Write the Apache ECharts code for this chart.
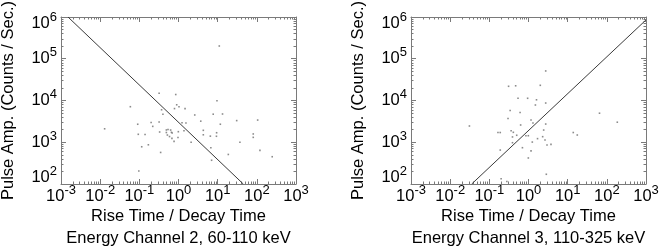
<!DOCTYPE html>
<html><head><meta charset="utf-8">
<script src="https://cdn.jsdelivr.net/npm/echarts@6/dist/echarts.min.js"></script>
<style>html,body{margin:0;padding:0;background:#fff}#c{width:661px;height:247px}</style>
</head><body><div id="c"></div>
<script>
// ---- tick labels (powers of ten) ----
const xTickExponents = [-3, -2, -1, 0, 1, 2, 3];
const yTickExponents = [2, 3, 4, 5, 6];

// ---- texts ----
const xTitle = 'Rise Time / Decay Time';
const yTitle = 'Pulse Amp. (Counts / Sec.)';
const panelTitles = ['Energy Channel 2, 60-110 keV', 'Energy Channel 3, 110-325 keV'];

// ---- Energy channel 2 events ----
const ch2RiseDecay = [11, 0.013, 0.059, 0.32, 0.85, 0.091, 0.094, 0.115, 0.097, 0.14, 0.17, 0.2, 0.22, 0.32, 0.33, 0.35, 0.37, 0.4, 0.49, 0.54, 0.49, 0.52, 0.59, 0.63, 0.66, 0.69, 0.68, 0.77, 0.79, 0.9, 1.03, 0.99, 0.97, 1.47, 1.23, 1.55, 1.38, 2.1, 2.6, 3.7, 4.3, 4.3, 6.5, 7, 6.7, 7.7, 9.4, 9.3, 9.6, 13.3, 11.7, 18.7, 30.6, 37, 81, 81, 105, 120, 247];
const ch2PulseAmp = [202000, 2100, 7100, 14900, 13900, 2700, 1550, 780, 205, 1530, 870, 2970, 2400, 3050, 1760, 570, 6000, 4700, 1970, 2020, 1710, 1490, 1370, 1960, 1730, 1670, 1240, 1050, 6400, 7900, 7100, 1790, 1300, 6400, 2940, 2890, 1890, 1000, 4500, 3200, 1930, 1510, 1400, 370, 740, 4700, 1690, 1390, 9900, 4750, 2700, 510, 3300, 1000, 1580, 1310, 3400, 640, 450];
const ch2FitX = [0.00151, 45.1];
const ch2FitY = [1000000, 100];

// ---- Energy channel 3 events ----
const ch3RiseDecay = [0.031, 0.166, 0.19, 0.19, 0.2, 0.28, 0.31, 0.47, 0.54, 0.95, 1.6, 0.34, 0.3, 0.36, 0.41, 0.39, 0.39, 0.61, 0.63, 0.5, 0.7, 0.86, 0.99, 0.99, 1.16, 1.16, 1.3, 1.5, 1.7, 1.25, 2.0, 2.44, 2.3, 2.64, 2.75, 2.75, 2.85, 2.75, 2.97, 3.75, 13.9, 17.6, 65, 185];
const ch3PulseAmp = [2450, 1710, 1710, 650, 134, 115, 21900, 22500, 11300, 11300, 10400, 5760, 3700, 1890, 1730, 1340, 975, 5160, 2590, 1470, 740, 1435, 1435, 420, 3410, 620, 2890, 7800, 1220, 1010, 23100, 1960, 1360, 1130, 8700, 51000, 171, 2730, 860, 890, 1710, 1490, 4960, 3020];
const ch3FitX = [0.0355, 1000];
const ch3FitY = [100, 851000];

// ---------------------------------------------------------------
const FONT = "'Liberation Sans', Arial, Helvetica, sans-serif";
const FRAME = '#7a7a7a';
const pw = e => Number('1e' + e);
const xMajor = xTickExponents.map(pw);
const yMajor = yTickExponents.map(pw);
function minorVals(exps) {
  const out = [];
  for (let i = 0; i < exps.length - 1; i++) for (let m = 2; m <= 9; m++) out.push(Number(m + 'e' + exps[i]));
  return out;
}
const xMinor = minorVals(xTickExponents);
const yMinor = minorVals(yTickExponents);
const zip = (a, b) => a.map((v, i) => [v, b[i]]);
const expOf = v => Math.round(Math.log10(v));

const rich = {
  b: { fontSize: 16.5, fontFamily: FONT, color: '#000', lineHeight: 18 },
  s: { fontSize: 13, fontFamily: FONT, color: '#000', lineHeight: 13, padding: [0, 0, 12, 0] },
  bt: { fontSize: 16.5, fontFamily: FONT, color: '#000', lineHeight: 18, padding: [13, 0, 0, 0] },
  st: { fontSize: 13, fontFamily: FONT, color: '#000', lineHeight: 13, padding: [1, 0, 0, 0] },
  bb: { fontSize: 16.5, fontFamily: FONT, color: '#000', lineHeight: 18, padding: [0, 0, 13, 0] },
  sb: { fontSize: 13, fontFamily: FONT, color: '#000', lineHeight: 13, padding: [0, 0, 25, 0] }
};

const grids = [
  { left: 61, top: 17, width: 235, height: 167 },
  { left: 411, top: 17, width: 235, height: 167 }
];

const xAxes = [], yAxes = [];
function xAx(g, pos, major, label, name) {
  const a = {
    type: 'log', logBase: 10, gridIndex: g, position: pos,
    min: xMajor[0], max: xMajor[xMajor.length - 1],
    axisLine: { show: major, onZero: false, lineStyle: { color: FRAME, width: 1 } },
    axisTick: { show: true, inside: true, length: major ? 5 : 2.5, customValues: major ? xMajor : xMinor, lineStyle: { color: FRAME, width: 1 } },
    axisLabel: label ? {
      show: true, margin: 3, customValues: xMajor, rich: rich,
      formatter: v => '{b|10}{s|' + expOf(v) + '}'
    } : { show: false },
    splitLine: { show: false }, minorTick: { show: false }, minorSplitLine: { show: false },
    axisPointer: { show: false }, silent: true
  };
  if (name) {
    a.name = name; a.nameLocation = 'middle'; a.nameGap = 21; a.nameMoveOverlap = false;
    a.nameTextStyle = { fontSize: 16.5, fontFamily: FONT, color: '#000', lineHeight: 22 };
  }
  return a;
}
function yAx(g, pos, major, label, name) {
  const a = {
    type: 'log', logBase: 10, gridIndex: g, position: pos,
    min: yMajor[0], max: yMajor[yMajor.length - 1],
    axisLine: { show: major, onZero: false, lineStyle: { color: FRAME, width: 1 } },
    axisTick: { show: true, inside: true, length: major ? 5 : 2.5, customValues: major ? yMajor : yMinor, lineStyle: { color: FRAME, width: 1 } },
    axisLabel: label ? {
      show: true, margin: 4, customValues: yMajor, rich: rich,
      formatter: v => {
        const e = expOf(v);
        if (e === yTickExponents[yTickExponents.length - 1]) return '{bt|10}{st|' + e + '}';
        if (e === yTickExponents[0]) return '{bb|10}{sb|' + e + '}';
        return '{b|10}{s|' + e + '}';
      }
    } : { show: false },
    splitLine: { show: false }, minorTick: { show: false }, minorSplitLine: { show: false },
    axisPointer: { show: false }, silent: true
  };
  if (name) {
    a.name = name; a.nameLocation = 'middle'; a.nameGap = 44; a.nameMoveOverlap = false;
    a.nameTextStyle = { fontSize: 16.5, fontFamily: FONT, color: '#000' };
  }
  return a;
}
for (let g = 0; g < 2; g++) {
  xAxes.push(xAx(g, 'bottom', true, true, xTitle + '\n' + panelTitles[g]));
  xAxes.push(xAx(g, 'bottom', false, false));
  xAxes.push(xAx(g, 'top', true, false));
  xAxes.push(xAx(g, 'top', false, false));
  yAxes.push(yAx(g, 'left', true, true, yTitle));
  yAxes.push(yAx(g, 'left', false, false));
  yAxes.push(yAx(g, 'right', true, false));
  yAxes.push(yAx(g, 'right', false, false));
}

const pointStyle = { color: '#6f6f6f' };
const series = [
  { type: 'scatter', xAxisIndex: 0, yAxisIndex: 0, symbol: 'rect', symbolSize: 1.6, itemStyle: pointStyle, data: zip(ch2RiseDecay, ch2PulseAmp), silent: true },
  { type: 'line', xAxisIndex: 0, yAxisIndex: 0, symbol: 'none', lineStyle: { color: '#3a3a3a', width: 1 }, data: zip(ch2FitX, ch2FitY), silent: true },
  { type: 'scatter', xAxisIndex: 4, yAxisIndex: 4, symbol: 'rect', symbolSize: 1.6, itemStyle: pointStyle, data: zip(ch3RiseDecay, ch3PulseAmp), silent: true },
  { type: 'line', xAxisIndex: 4, yAxisIndex: 4, symbol: 'none', lineStyle: { color: '#3a3a3a', width: 1 }, data: zip(ch3FitX, ch3FitY), silent: true }
];

const chart = echarts.init(document.getElementById('c'), null, { renderer: 'canvas' });
chart.setOption({
  animation: false,
  backgroundColor: '#fff',
  textStyle: { fontFamily: FONT },
  grid: grids.map(g => Object.assign({ containLabel: false, outerBoundsMode: 'none' }, g)),
  xAxis: xAxes,
  yAxis: yAxes,
  series: series
});
</script>
</body></html>
